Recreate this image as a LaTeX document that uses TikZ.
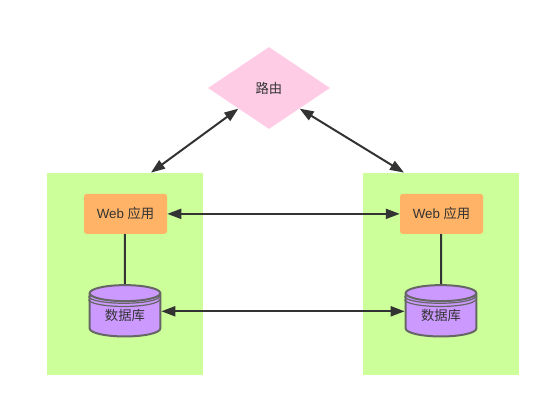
\documentclass[tikz,border=0pt]{standalone}
\usepackage{fontspec}
\setmainfont{Liberation Sans}
\newfontfamily\cjk{Noto Sans CJK SC}
\usepackage{xcolor}
\definecolor{grpgreen}{HTML}{CCFF99}
\definecolor{weborange}{HTML}{FFB366}
\definecolor{dbpurple}{HTML}{CC99FF}
\definecolor{routerpink}{HTML}{FFCCE6}
\definecolor{inkgray}{HTML}{333333}
\definecolor{dbedge}{HTML}{666666}
\usetikzlibrary{arrows.meta,positioning,shapes.geometric}
\tikzset{
  nb/.style={align=center, font=\fontsize{10pt}{12pt}\selectfont, text=inkgray, inner sep=0pt},
  nrouter/.style={nb, diamond, aspect=1.488, fill=routerpink, minimum width=91.5pt, minimum height=61.5pt},
  ngroup/.style={fill=grpgreen, minimum width=117pt, minimum height=151.5pt, inner sep=0pt},
  nweb/.style={nb, fill=weborange, rounded corners=2pt, minimum width=62.25pt, minimum height=30pt},
  ndb/.style={nb, cylinder, shape border rotate=90, aspect=0.4, fill=dbpurple, draw=dbedge,
              line width=1.5pt, minimum width=53pt, minimum height=38.5pt},
  dbring/.style={draw=dbedge, line width=.9pt},
  ar/.style={{Stealth[length=10.5pt,width=7.5pt,inset=0pt]}-{Stealth[length=10.5pt,width=7.5pt,inset=0pt]}, draw=inkgray, line width=1.5pt},
  ln/.style={draw=inkgray, line width=1.5pt},
}
\begin{document}
\begin{tikzpicture}
  \useasboundingbox (-201.75pt,66pt) rectangle (210.75pt,-238.5pt);
  \node[nrouter] (router) {\raisebox{-1pt}{\cjk 路由}};
  \node[ngroup, below=32.5pt of router, xshift=-108pt] (grpl) {};
  \node[ngroup, below=32.5pt of router, xshift=129pt] (grpr) {};
  \node[nweb, below=15.75pt of grpl.north, xshift=.4pt] (webl) {Web {\cjk 应用}};
  \node[nweb, below=15.75pt of grpr.north, xshift=.4pt] (webr) {Web {\cjk 应用}};
  \node[ndb, below=37.5pt of webl, xshift=-.4pt] (dbl) {\raisebox{-2.5pt}{\cjk 数据库}};
  \node[ndb, below=37.5pt of webr, xshift=-.4pt] (dbr) {\raisebox{-2.5pt}{\cjk 数据库}};
  % rings under the lid
  \foreach \db in {dbl,dbr} {
    \draw[dbring] ([yshift=-2.4pt]\db.before top) arc[start angle=180, end angle=360, x radius=26.5pt, y radius=5.2pt];
    \draw[dbring] ([yshift=-4.8pt]\db.before top) arc[start angle=180, end angle=360, x radius=26.5pt, y radius=5.2pt];
  }
  \draw[ln] (dbl |- webl.south) -- (dbl);
  \draw[ln] (dbr |- webr.south) -- (dbr);
  \draw[ar] ([xshift=19.5pt]grpl.north) -- (router.south west);
  \draw[ar] ([xshift=-27.75pt]grpr.north) -- (router.south east);
  \draw[ar] (webl) -- (webr);
  \draw[ar] ([yshift=3pt]dbl.east) -- ([yshift=3pt]dbr.west);
\end{tikzpicture}
\end{document}
